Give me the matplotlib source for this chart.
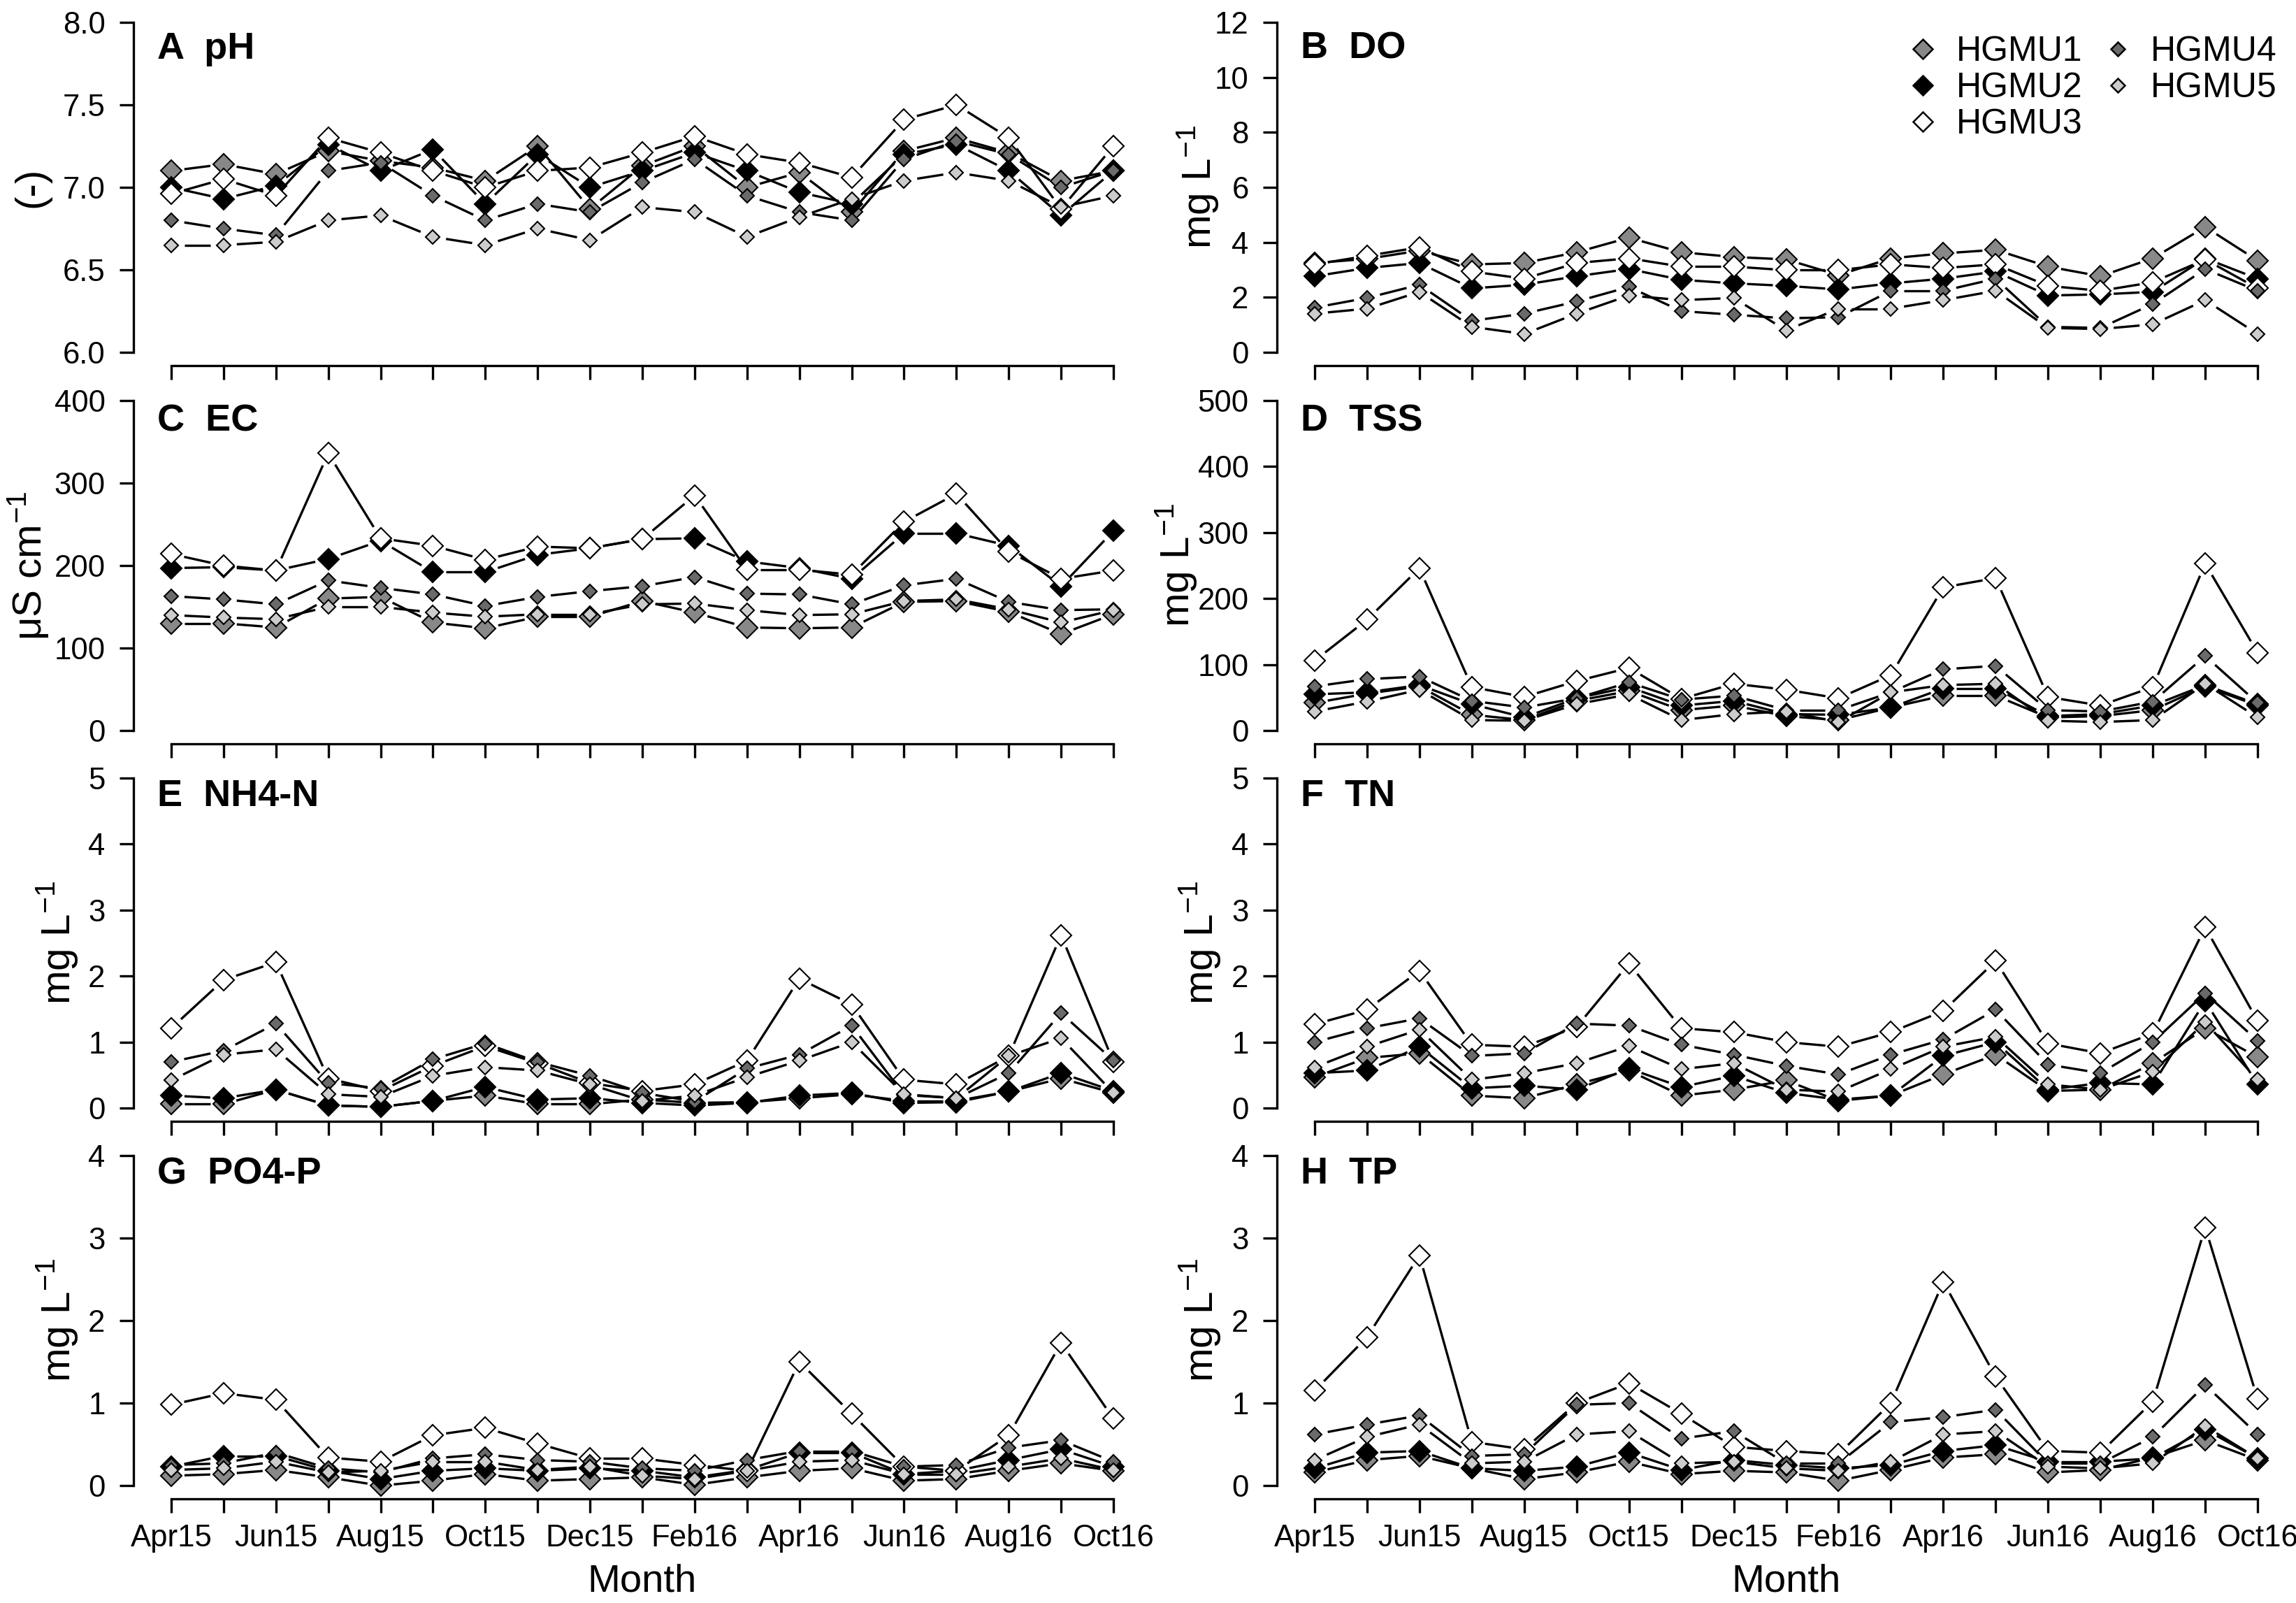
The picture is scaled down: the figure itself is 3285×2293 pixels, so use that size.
import numpy as np
import matplotlib
matplotlib.use('Agg')
import matplotlib.pyplot as plt
from matplotlib.collections import LineCollection
from matplotlib.lines import Line2D

plt.rcParams['font.family'] = ['Liberation Sans', 'DejaVu Sans']
plt.rcParams['mathtext.fontset'] = 'custom'
plt.rcParams['mathtext.rm'] = 'Liberation Sans'
plt.rcParams['mathtext.it'] = 'Liberation Sans:italic'
plt.rcParams['mathtext.bf'] = 'Liberation Sans:bold'

# ---------------- data ----------------
months = ['Apr15', 'May15', 'Jun15', 'Jul15', 'Aug15', 'Sep15', 'Oct15', 'Nov15',
          'Dec15', 'Jan16', 'Feb16', 'Mar16', 'Apr16', 'May16', 'Jun16', 'Jul16',
          'Aug16', 'Sep16', 'Oct16']
units = ['HGMU1', 'HGMU2', 'HGMU3', 'HGMU4', 'HGMU5']

ph_values = [
    [7.10, 7.14, 7.08, 7.22, 7.16, 7.12, 7.04, 7.25, 6.87, 7.13, 7.25, 7.00, 7.09, 6.85, 7.22, 7.30, 7.21, 7.04, 7.10],
    [7.00, 6.93, 7.01, 7.26, 7.10, 7.23, 6.90, 7.20, 7.00, 7.10, 7.21, 7.10, 6.97, 6.90, 7.20, 7.26, 7.10, 6.83, 7.10],
    [6.96, 7.05, 6.95, 7.30, 7.21, 7.10, 7.00, 7.10, 7.12, 7.21, 7.31, 7.20, 7.15, 7.06, 7.41, 7.50, 7.30, 6.87, 7.25],
    [6.80, 6.75, 6.71, 7.10, 7.15, 6.95, 6.80, 6.90, 6.85, 7.03, 7.17, 6.95, 6.85, 6.80, 7.17, 7.28, 7.20, 7.00, 7.10],
    [6.65, 6.65, 6.67, 6.80, 6.83, 6.70, 6.65, 6.75, 6.68, 6.88, 6.85, 6.70, 6.82, 6.93, 7.04, 7.09, 7.04, 6.88, 6.95],
]
do_values = [
    [3.25, 3.40, 3.70, 3.20, 3.25, 3.64, 4.17, 3.64, 3.47, 3.38, 2.81, 3.42, 3.60, 3.73, 3.12, 2.77, 3.42, 4.56, 3.34],
    [2.77, 3.07, 3.25, 2.33, 2.46, 2.77, 3.03, 2.64, 2.51, 2.42, 2.29, 2.51, 2.68, 2.94, 2.07, 2.11, 2.20, 3.42, 2.68],
    [3.20, 3.51, 3.82, 2.94, 2.68, 3.25, 3.42, 3.12, 3.12, 2.99, 2.99, 3.20, 3.07, 3.20, 2.42, 2.24, 2.55, 3.38, 2.33],
    [1.63, 1.98, 2.46, 1.15, 1.41, 1.85, 2.38, 1.50, 1.37, 1.24, 1.28, 2.24, 2.24, 2.68, 0.93, 0.89, 1.76, 3.03, 2.24],
    [1.41, 1.59, 2.20, 0.93, 0.67, 1.41, 2.07, 1.90, 1.98, 0.80, 1.59, 1.59, 1.90, 2.24, 0.89, 0.85, 1.02, 1.90, 0.67],
]
ec_values = [
    [130, 130, 125, 160, 162, 131, 124, 138, 138, 157, 143, 125, 124, 125, 156, 157, 144, 117, 141],
    [197, 198, 194, 208, 230, 192, 192, 213, 221, 232, 233, 205, 197, 184, 239, 239, 224, 175, 242],
    [214, 200, 194, 336, 233, 224, 207, 223, 221, 232, 285, 195, 195, 189, 253, 287, 217, 184, 194],
    [163, 159, 153, 182, 173, 165, 151, 162, 169, 175, 186, 166, 165, 153, 176, 184, 156, 146, 147],
    [140, 137, 135, 150, 150, 143, 138, 141, 141, 153, 154, 146, 140, 141, 157, 159, 147, 131, 146],
]
tss_values = [
    [42, 56, 67, 24, 16, 45, 60, 31, 38, 22, 16, 35, 53, 53, 20, 22, 31, 67, 38],
    [55, 58, 69, 40, 20, 49, 66, 38, 45, 25, 24, 35, 64, 64, 22, 25, 38, 69, 40],
    [106, 168, 246, 66, 51, 75, 95, 48, 71, 62, 49, 84, 217, 231, 51, 38, 66, 253, 118],
    [67, 78, 82, 45, 35, 49, 73, 47, 53, 31, 31, 58, 93, 98, 31, 29, 44, 113, 42],
    [29, 44, 62, 16, 15, 40, 55, 16, 25, 29, 13, 58, 69, 71, 15, 13, 16, 71, 20],
]
nh4_values = [
    [0.06, 0.06, 0.28, 0.04, 0.02, 0.11, 0.19, 0.06, 0.06, 0.13, 0.08, 0.09, 0.15, 0.21, 0.11, 0.11, 0.25, 0.45, 0.23],
    [0.19, 0.15, 0.28, 0.04, 0.02, 0.11, 0.32, 0.13, 0.15, 0.08, 0.04, 0.08, 0.19, 0.23, 0.08, 0.09, 0.25, 0.53, 0.26],
    [1.21, 1.94, 2.21, 0.45, 0.26, 0.64, 0.94, 0.68, 0.38, 0.26, 0.36, 0.72, 1.96, 1.57, 0.43, 0.36, 0.79, 2.62, 0.70],
    [0.70, 0.87, 1.28, 0.38, 0.30, 0.74, 0.98, 0.70, 0.49, 0.23, 0.10, 0.60, 0.81, 1.25, 0.20, 0.15, 0.53, 1.44, 0.72],
    [0.42, 0.81, 0.89, 0.21, 0.17, 0.49, 0.62, 0.57, 0.36, 0.11, 0.19, 0.47, 0.72, 1.00, 0.21, 0.15, 0.79, 1.06, 0.23],
]
tn_values = [
    [0.47, 0.76, 0.83, 0.19, 0.15, 0.36, 0.57, 0.19, 0.28, 0.42, 0.11, 0.19, 0.51, 0.81, 0.26, 0.28, 0.68, 1.21, 0.77],
    [0.53, 0.57, 0.93, 0.30, 0.34, 0.28, 0.60, 0.32, 0.49, 0.23, 0.13, 0.19, 0.79, 1.00, 0.28, 0.38, 0.36, 1.62, 0.36],
    [1.27, 1.49, 2.08, 0.96, 0.93, 1.23, 2.19, 1.21, 1.15, 1.00, 0.93, 1.15, 1.47, 2.23, 0.98, 0.83, 1.13, 2.74, 1.32],
    [1.00, 1.21, 1.36, 0.79, 0.83, 1.28, 1.25, 0.96, 0.81, 0.64, 0.51, 0.81, 1.04, 1.49, 0.66, 0.53, 1.00, 1.74, 1.02],
    [0.62, 0.93, 1.19, 0.43, 0.53, 0.68, 0.94, 0.59, 0.68, 0.28, 0.25, 0.59, 0.93, 1.08, 0.36, 0.28, 0.55, 1.30, 0.43],
]
po4_values = [
    [0.12, 0.14, 0.19, 0.10, 0.00, 0.06, 0.14, 0.06, 0.08, 0.10, 0.01, 0.10, 0.18, 0.21, 0.06, 0.08, 0.18, 0.27, 0.18],
    [0.23, 0.36, 0.36, 0.18, 0.08, 0.18, 0.21, 0.18, 0.21, 0.18, 0.10, 0.19, 0.40, 0.40, 0.14, 0.18, 0.31, 0.44, 0.23],
    [0.98, 1.12, 1.04, 0.34, 0.29, 0.61, 0.70, 0.51, 0.33, 0.33, 0.25, 0.18, 1.50, 0.87, 0.23, 0.18, 0.61, 1.73, 0.81],
    [0.25, 0.27, 0.40, 0.21, 0.16, 0.33, 0.38, 0.31, 0.29, 0.21, 0.18, 0.31, 0.42, 0.42, 0.23, 0.25, 0.46, 0.55, 0.29],
    [0.19, 0.21, 0.29, 0.16, 0.18, 0.29, 0.29, 0.19, 0.23, 0.12, 0.08, 0.18, 0.29, 0.31, 0.14, 0.14, 0.23, 0.33, 0.19],
]
tp_values = [
    [0.16, 0.31, 0.36, 0.21, 0.08, 0.16, 0.29, 0.14, 0.18, 0.16, 0.06, 0.19, 0.34, 0.38, 0.16, 0.19, 0.34, 0.55, 0.31],
    [0.21, 0.40, 0.42, 0.21, 0.18, 0.23, 0.40, 0.19, 0.31, 0.25, 0.21, 0.25, 0.42, 0.49, 0.29, 0.29, 0.33, 0.68, 0.33],
    [1.15, 1.80, 2.79, 0.53, 0.44, 1.00, 1.24, 0.87, 0.47, 0.42, 0.38, 1.00, 2.47, 1.32, 0.42, 0.40, 1.02, 3.13, 1.05],
    [0.62, 0.74, 0.85, 0.36, 0.38, 0.98, 1.00, 0.57, 0.66, 0.27, 0.27, 0.77, 0.83, 0.92, 0.27, 0.27, 0.59, 1.22, 0.62],
    [0.31, 0.59, 0.74, 0.27, 0.29, 0.62, 0.66, 0.27, 0.29, 0.21, 0.18, 0.29, 0.62, 0.66, 0.23, 0.21, 0.27, 0.72, 0.33],
]

# ---------------- styling ----------------
fills = ['#888888', '#000000', '#ffffff', '#6a6a6a', '#cccccc']
msizes = [5.0, 5.0, 5.0, 3.5, 3.5]

DPI = 300
fig = plt.figure(figsize=(3285 / DPI, 2293 / DPI), dpi=DPI)

col_x = [191 / 3285, 1827 / 3285]
col_w = [1456 / 3285, 1457 / 3285]
row_b = [1 - 523 / 2293, 1 - 1064 / 2293, 1 - 1604 / 2293, 1 - 2144 / 2293]
ax_h = 510 / 2293

panels = [
    # (row, col, title, ylabel, ylabel_x, yticks, fmt, data)
    (0, 0, 'A  pH', '(-)', -0.100, [6.0, 6.5, 7.0, 7.5, 8.0], '{:.1f}', ph_values),
    (0, 1, 'B  DO', r'mg L$^{-1}$', -0.078, [0, 2, 4, 6, 8, 10, 12], '{:d}', do_values),
    (1, 0, 'C  EC', r'μS cm$^{-1}$', -0.104, [0, 100, 200, 300, 400], '{:d}', ec_values),
    (1, 1, 'D  TSS', r'mg L$^{-1}$', -0.099, [0, 100, 200, 300, 400, 500], '{:d}', tss_values),
    (2, 0, 'E  NH4-N', r'mg L$^{-1}$', -0.075, [0, 1, 2, 3, 4, 5], '{:d}', nh4_values),
    (2, 1, 'F  TN', r'mg L$^{-1}$', -0.076, [0, 1, 2, 3, 4, 5], '{:d}', tn_values),
    (3, 0, 'G  PO4-P', r'mg L$^{-1}$', -0.075, [0, 1, 2, 3, 4], '{:d}', po4_values),
    (3, 1, 'H  TP', r'mg L$^{-1}$', -0.076, [0, 1, 2, 3, 4], '{:d}', tp_values),
]
title_y = [0.861, 0.878, 0.884, 0.884]

GAP_PX = 19.0
x = np.arange(len(months))
n = len(months)

for row, col, title, ylab, ylab_x, yticks, fmt, data in panels:
    ax = fig.add_axes([col_x[col], row_b[row], col_w[col], ax_h])
    y0, y1 = yticks[0], yticks[-1]
    r = y1 - y0
    ax.set_ylim(y0 - 0.04 * r, y1 + 0.04 * r)
    ax.set_xlim(-0.04 * (n - 1), (n - 1) * 1.04)
    for s in ['top', 'right']:
        ax.spines[s].set_visible(False)
    ax.spines['left'].set_bounds(y0, y1)
    ax.spines['bottom'].set_bounds(0, n - 1)
    for s in ['left', 'bottom']:
        ax.spines[s].set_linewidth(0.8)
    ax.set_yticks(yticks)
    ax.set_yticklabels([fmt.format(v) for v in yticks])
    ax.set_xticks(x)
    if row == 3:
        ax.set_xticklabels([m if i % 2 == 0 else '' for i, m in enumerate(months)])
    else:
        ax.set_xticklabels([''] * n)
    ax.tick_params(axis='both', direction='out', length=4.7, width=0.8,
                   labelsize=10.5, colors='black')
    ax.tick_params(axis='y', pad=5.0)
    ax.tick_params(axis='x', pad=4.0)

    ax.text(0.0234, title_y[row], title, transform=ax.transAxes,
            fontsize=13, fontweight='bold', ha='left', va='baseline')
    ax.text(ylab_x, 0.5, ylab, transform=ax.transAxes, rotation=90,
            ha='center', va='center', fontsize=14)
    if row == 3:
        ax.text(0.5, -0.233, 'Month', transform=ax.transAxes,
                ha='center', va='center', fontsize=13.5)

    # series: lines with gaps around points (R type "b"), then markers
    to_disp = ax.transData
    inv = ax.transData.inverted()
    for k, vals in enumerate(data):
        vals = np.asarray(vals, dtype=float)
        pts = to_disp.transform(np.column_stack([x, vals]))
        segs = []
        for i in range(n - 1):
            p0, p1 = pts[i], pts[i + 1]
            d = p1 - p0
            L = np.hypot(d[0], d[1])
            if L <= 2 * GAP_PX + 1:
                continue
            u = d / L
            q = inv.transform(np.vstack([p0 + u * GAP_PX, p1 - u * GAP_PX]))
            segs.append(q)
        lc = LineCollection(segs, colors='black', linewidths=0.8,
                            capstyle='butt', zorder=2 + 2 * k)
        ax.add_collection(lc)
        ax.plot(x, vals, linestyle='none', marker='D', markersize=msizes[k],
                markerfacecolor=fills[k], markeredgecolor='black',
                markeredgewidth=0.5, zorder=3 + 2 * k, clip_on=False)

    if row == 0 and col == 1:
        handles = [Line2D([], [], linestyle='none', marker='D', markersize=msizes[k] * 0.95,
                          markerfacecolor=fills[k], markeredgecolor='black',
                          markeredgewidth=0.6) for k in range(5)]
        ax.legend(handles, units, loc='upper right', bbox_to_anchor=(0.982, 0.925),
                  ncol=2, frameon=False, fontsize=12, borderpad=0, borderaxespad=0,
                  handlelength=0.8, handletextpad=0.55, columnspacing=0.6,
                  labelspacing=0.12)

fig.savefig('out.png', dpi=DPI)
